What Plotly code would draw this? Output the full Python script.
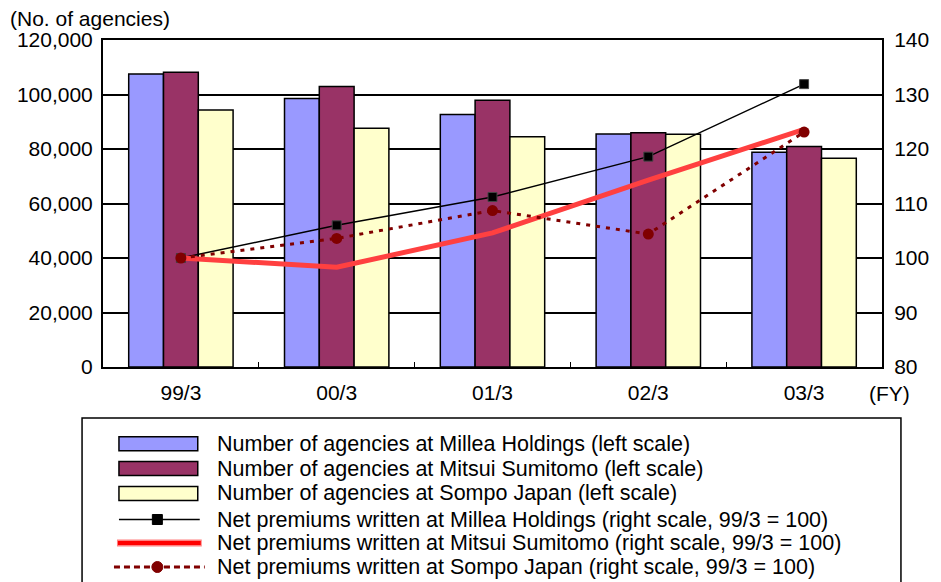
import plotly.graph_objects as go

# Fiscal years (March year-end)
years = ["99/3", "00/3", "01/3", "02/3", "03/3"]

# Number of agencies (left scale)
millea_agencies = [107500, 98500, 92700, 85500, 78800]
mitsui_agencies = [108200, 102900, 97900, 86000, 80900]
sompo_agencies = [94300, 87600, 84500, 85400, 76600]

# Net premiums written, indexed 99/3 = 100 (right scale)
millea_premiums = [100, 106.0, 111.2, 118.6, 131.9]
mitsui_premiums = [100, 98.3, 104.6, 114.3, 123.6]
sompo_premiums = [100, 103.6, 108.7, 104.4, 123.1]

left_ticks = [0, 20000, 40000, 60000, 80000, 100000, 120000]
right_ticks = [80, 90, 100, 110, 120, 130, 140]

legend_labels = [
    "Number of agencies at Millea Holdings (left scale)",
    "Number of agencies at Mitsui Sumitomo (left scale)",
    "Number of agencies at Sompo Japan (left scale)",
    "Net premiums written at Millea Holdings (right scale, 99/3 = 100)",
    "Net premiums written at Mitsui Sumitomo (right scale, 99/3 = 100)",
    "Net premiums written at Sompo Japan (right scale, 99/3 = 100)",
]

C_MILLEA = "#9999FF"
C_MITSUI = "#993366"
C_SOMPO = "#FFFFCC"
C_LINE_MITSUI = "#FF4040"
C_LINE_SOMPO = "#800000"

FONT = "Liberation Sans, Arial, sans-serif"
FS = 21
W, H = 941, 582
L, R, T, B = 103, 884, 40, 367  # plot area in pixels


def px(x):
    return (x - L) / (R - L)


def py(y):
    return (B - y) / (B - T)


fig = go.Figure()

bar_line = dict(color="black", width=1.5)
for vals, col in [(millea_agencies, C_MILLEA), (mitsui_agencies, C_MITSUI), (sompo_agencies, C_SOMPO)]:
    fig.add_trace(go.Bar(x=years, y=vals, marker=dict(color=col, line=bar_line),
                         yaxis="y", showlegend=False))

fig.add_trace(go.Scatter(x=years, y=millea_premiums, yaxis="y2", mode="lines+markers",
                         line=dict(color="black", width=1.5),
                         marker=dict(symbol="square", size=9, color="black",
                                     line=dict(color="#444", width=1)),
                         showlegend=False))
fig.add_trace(go.Scatter(x=years, y=mitsui_premiums, yaxis="y2", mode="lines",
                         line=dict(color=C_LINE_MITSUI, width=5), showlegend=False))
fig.add_trace(go.Scatter(x=years, y=sompo_premiums, yaxis="y2", mode="lines+markers",
                         line=dict(color=C_LINE_SOMPO, width=3, dash="4px,6px"),
                         marker=dict(symbol="circle", size=11, color=C_LINE_SOMPO),
                         showlegend=False))

shapes = []
annotations = []

# Legend frame
shapes.append(dict(type="rect", xref="paper", yref="paper",
                   x0=px(82), x1=px(903), y0=py(600), y1=py(418),
                   line=dict(color="black", width=1.5), fillcolor="white", layer="above"))

rows_y = [443.7, 468.5, 493.5, 519.5, 543, 567]
# Bar swatches
for yc, col in zip(rows_y[:3], [C_MILLEA, C_MITSUI, C_SOMPO]):
    shapes.append(dict(type="rect", xref="paper", yref="paper",
                       x0=px(119), x1=px(198), y0=py(yc + 7), y1=py(yc - 7),
                       line=dict(color="black", width=1.5), fillcolor=col, layer="above"))
# Line swatches
shapes.append(dict(type="line", xref="paper", yref="paper",
                   x0=px(119), x1=px(200), y0=py(rows_y[3]), y1=py(rows_y[3]),
                   line=dict(color="black", width=1.5), layer="above"))
shapes.append(dict(type="rect", xref="paper", yref="paper", xsizemode="pixel", ysizemode="pixel",
                   xanchor=px(157.5), yanchor=py(rows_y[3]), x0=-5, x1=5, y0=-5, y1=5,
                   line=dict(color="black", width=1), fillcolor="black", layer="above"))
shapes.append(dict(type="line", xref="paper", yref="paper",
                   x0=px(117), x1=px(202), y0=py(rows_y[4]), y1=py(rows_y[4]),
                   line=dict(color="#FF8080", width=7), layer="above"))
shapes.append(dict(type="line", xref="paper", yref="paper",
                   x0=px(118), x1=px(201), y0=py(rows_y[4]), y1=py(rows_y[4]),
                   line=dict(color="#FF0000", width=4), layer="above"))
shapes.append(dict(type="line", xref="paper", yref="paper",
                   x0=px(114), x1=px(205), y0=py(rows_y[5]), y1=py(rows_y[5]),
                   line=dict(color=C_LINE_SOMPO, width=3, dash="6px,4px"), layer="above"))
shapes.append(dict(type="circle", xref="paper", yref="paper", xsizemode="pixel", ysizemode="pixel",
                   xanchor=px(157.5), yanchor=py(rows_y[5]), x0=-5.5, x1=5.5, y0=-5.5, y1=5.5,
                   line=dict(color=C_LINE_SOMPO, width=1), fillcolor=C_LINE_SOMPO, layer="above"))

for yc, text in zip(rows_y, legend_labels):
    annotations.append(dict(text=text, xref="paper", yref="paper", x=px(215), y=py(yc),
                            xanchor="left", yanchor="middle", showarrow=False,
                            font=dict(size=21.5, color="black", family=FONT)))

annotations.append(dict(text="(No. of agencies)", xref="paper", yref="paper",
                        x=px(8), y=py(18), xanchor="left", yanchor="middle", showarrow=False,
                        font=dict(size=FS, color="black", family=FONT)))
annotations.append(dict(text="(FY)", xref="paper", yref="paper",
                        x=px(869), y=py(393), xanchor="left", yanchor="middle", showarrow=False,
                        font=dict(size=FS, color="black", family=FONT)))

fig.update_layout(
    width=W, height=H,
    margin=dict(l=L, r=W - R, t=T, b=H - B),
    paper_bgcolor="white", plot_bgcolor="white",
    barmode="group", bargap=0.33, bargroupgap=0,
    font=dict(family=FONT, size=FS, color="black"),
    xaxis=dict(type="category", showline=True, linecolor="black", linewidth=2, mirror=True,
               ticks="inside", tickson="boundaries", ticklen=5, tickcolor="black",
               tickfont=dict(size=FS), showgrid=False, ticklabelstandoff=6),
    yaxis=dict(range=[0, 120000], tickvals=left_ticks, tickformat=",", showgrid=True,
               gridcolor="black", gridwidth=1.5, showline=True, linecolor="black", linewidth=2,
               ticks="", tickfont=dict(size=FS), zeroline=False, ticklabelstandoff=4),
    yaxis2=dict(range=[80, 140], tickvals=right_ticks, overlaying="y", side="right",
                showgrid=False, showline=True, linecolor="black", linewidth=2,
                ticks="", tickfont=dict(size=FS), zeroline=False, ticklabelstandoff=6),
    shapes=shapes, annotations=annotations,
)

fig.write_html("out.html")
